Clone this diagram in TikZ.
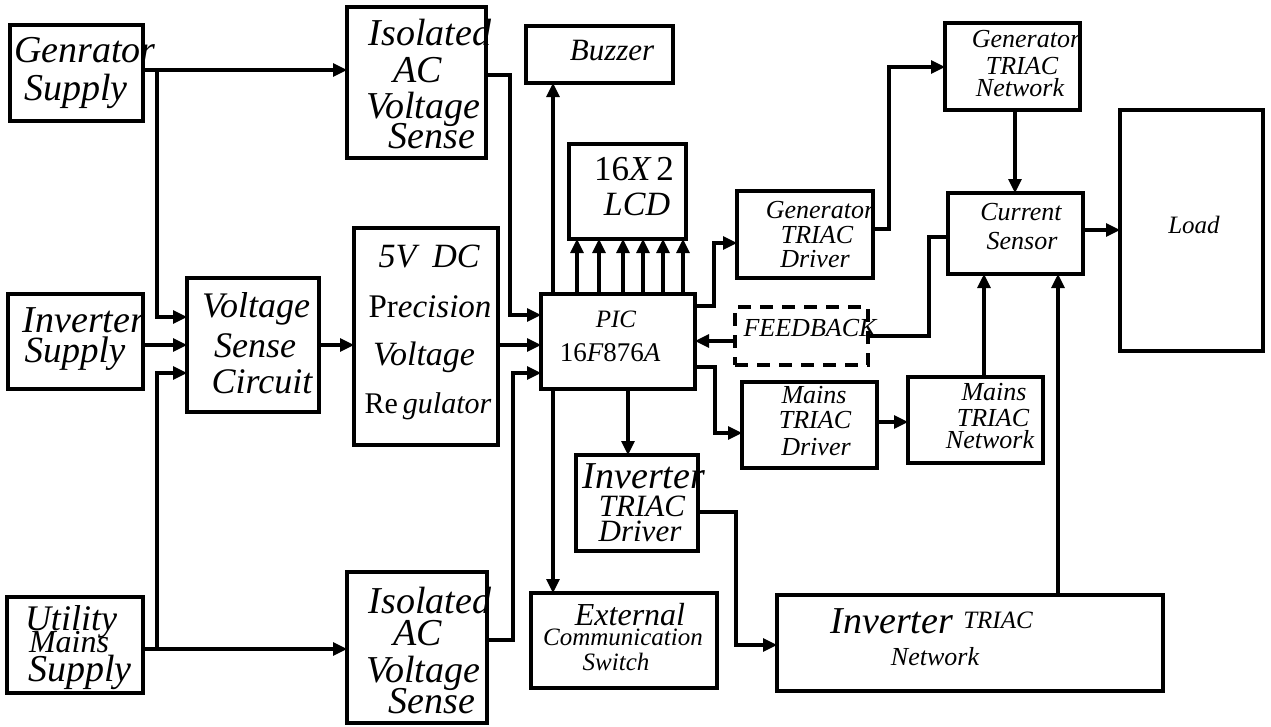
\documentclass[tikz,border=0pt]{standalone}
\usepackage{fontspec}
\setmainfont{Liberation Serif}
\usetikzlibrary{arrows.meta}
\tikzset{
  box/.style={draw, line width=3.8pt, inner sep=0pt, outer sep=0pt},
  fbbox/.style={draw, line width=4.2pt, dash pattern=on 13pt off 9pt, inner sep=0pt, outer sep=0pt},
  conn/.style={line width=3.1pt},
  arr/.style={conn, -{Triangle[length=14pt,width=13pt]}},
  lbl/.style={anchor=base, inner sep=0pt, font=\itshape},
}
\newcommand\mybox[6][box]{\node[#1, minimum width={(#5-#3)*1pt}, minimum height={(#6-#4)*1pt}] (#2) at ({(#3+#5)/2},{(#4+#6)/2}) {};}
\newcommand\mytext[5]{\node[lbl] (#1) at (#2,#3) {\fontsize{#4}{#4}\selectfont #5};}
\begin{document}
\begin{tikzpicture}[x=1pt,y=-1pt]
\useasboundingbox (0,0) rectangle (1271,726);
% boxes
\mybox{gen}{10}{25}{143}{121}
\mybox{iso1}{347}{7}{486}{158}
\mybox{inv}{8}{294}{143}{389}
\mybox{vsc}{187}{278}{319}{412}
\mybox{dc}{354}{228}{498}{445}
\mybox{util}{7}{597}{143}{693}
\mybox{iso2}{347}{572}{487}{723}
\mybox{pic}{541}{294}{695}{389}
\mybox{buz}{526}{26}{673}{83}
\mybox{lcd}{569}{144}{686}{239}
\mybox{gtd}{737}{191}{873}{278}
\mybox[fbbox]{fb}{735}{307}{868}{365}
\mybox{mtd}{742}{382}{877}{468}
\mybox{itd}{576}{455}{698}{551}
\mybox{ecs}{531}{593}{717}{688}
\mybox{itn}{777}{595}{1163}{691}
\mybox{gtn}{945}{23}{1080}{110}
\mybox{cs}{948}{193}{1083}{274}
\mybox{load}{1120}{110}{1263}{351}
\mybox{mtn}{908}{377}{1043}{463}
% texts
\mytext{t1}{85}{62}{38}{Genrator}
\mytext{t2}{76}{100}{38}{Supply}
\mytext{t3}{430}{45}{38}{Isolated}
\mytext{t4}{418}{82}{38}{AC}
\mytext{t5}{423}{118}{38}{Voltage}
\mytext{t6}{432}{148}{38}{Sense}
\mytext{t7}{84}{332}{38}{Inverter}
\mytext{t8}{75}{362}{37}{Supply}
\mytext{t9}{256}{317}{36}{Voltage}
\mytext{t10}{255}{357}{36}{Sense}
\mytext{t11}{262}{393}{36}{Circuit}
\mytext{t12}{429}{267}{34}{5V\hspace{16pt}DC}
\mytext{t13}{430}{317}{33}{{\upshape Pr}ecision}
\mytext{t14}{424}{365}{34}{Voltage}
\mytext{t15}{428}{413}{30}{{\upshape Re}\,gulator}
\mytext{t16}{71}{630}{36}{Utility}
\mytext{t17}{69}{652}{32}{Mains}
\mytext{t18}{80}{681}{38}{Supply}
\mytext{t19}{430}{613}{38}{Isolated}
\mytext{t20}{418}{645}{38}{AC}
\mytext{t21}{423}{682}{38}{Voltage}
\mytext{t22}{432}{713}{38}{Sense}
\mytext{t23}{612}{60}{31}{Buzzer}
\mytext{t24}{634}{180}{35}{{\upshape 16}X\,{\upshape 2}}
\mytext{t25}{637}{215}{34}{LCD}
\mytext{t26}{616}{327}{25}{PIC}
\mytext{t27}{610}{361}{27}{{\upshape 16}F{\upshape 876}A}
\mytext{t28}{820}{218}{26}{Generator}
\mytext{t29}{817}{243}{26}{TRIAC}
\mytext{t30}{815}{267}{26}{Driver}
\mytext{t31}{810}{336}{26}{FEEDBACK}
\mytext{t32}{814}{403}{26}{Mains}
\mytext{t33}{815}{428}{26}{TRIAC}
\mytext{t34}{816}{455}{26}{Driver}
\mytext{t35}{994}{400}{26}{Mains}
\mytext{t36}{993}{426}{26}{TRIAC}
\mytext{t37}{990}{448}{26}{Network}
\mytext{t38}{1026}{47}{26}{Generator}
\mytext{t39}{1022}{74}{26}{TRIAC}
\mytext{t40}{1020}{96}{26}{Network}
\mytext{t41}{1021}{220}{26}{Current}
\mytext{t42}{1022}{249}{26}{Sensor}
\mytext{t43}{1194}{233}{25}{Load}
\mytext{t44}{644}{488}{38}{Inverter}
\mytext{t45}{642}{516}{31}{TRIAC}
\mytext{t46}{640}{541}{31}{Driver}
\mytext{t47}{630}{625}{32}{External}
\mytext{t48}{623}{645}{25}{Communication}
\mytext{t49}{616}{670}{25}{Switch}
\mytext{t50}{892}{633}{38}{Inverter}
\mytext{t51}{998}{628}{25}{TRIAC}
\mytext{t52}{935}{665}{26}{Network}
% connectors
\coordinate (j1) at (157,70);
\coordinate (j2) at (157,649);
\draw[arr] (gen.east |- 0,70) -- (iso1.west |- 0,70);
\draw[arr] (j1) -- (157,317) -- (vsc.west |- 0,317);
\draw[arr] (inv.east |- 0,345) -- (vsc.west |- 0,345);
\draw[arr] (util.east |- 0,649) -- (iso2.west |- 0,649);
\draw[arr] (j2) -- (157,373) -- (vsc.west |- 0,373);
\draw[arr] (vsc.east |- 0,345) -- (dc.west |- 0,345);
\draw[arr] (dc.east |- 0,345) -- (pic.west |- 0,345);
\draw[arr] (iso1.east |- 0,75) -- (510,75) -- (510,315) -- (pic.west |- 0,315);
\draw[arr] (iso2.east |- 0,640) -- (513,640) -- (513,373) -- (pic.west |- 0,373);
\draw[arr] (pic.north -| 553,0) -- (buz.south -| 553,0);
\draw[arr] (pic.south -| 553,0) -- (ecs.north -| 553,0);
\foreach \x in {577,599,623,643,663,683} \draw[arr] (pic.north -| \x,0) -- (lcd.south -| \x,0);
\draw[arr] (pic.east |- 0,306) -- (714,306) -- (714,243) -- (gtd.west |- 0,243);
\draw[arr] (gtd.east |- 0,229) -- (889,229) -- (889,67) -- (gtn.west |- 0,67);
\draw[arr] (gtn.south -| 1015,0) -- (cs.north -| 1015,0);
\draw[arr] (cs.east |- 0,230) -- (load.west |- 0,230);
\draw[conn] (cs.west |- 0,237) -- (929,237) -- (929,336) -- (fb.east |- 0,336);
\draw[arr] (fb.west |- 0,341) -- (pic.east |- 0,341);
\draw[arr] (pic.east |- 0,367) -- (715,367) -- (715,433) -- (mtd.west |- 0,433);
\draw[arr] (mtd.east |- 0,422) -- (mtn.west |- 0,422);
\draw[arr] (mtn.north -| 984,0) -- (cs.south -| 984,0);
\draw[arr] (itn.north -| 1058,0) -- (cs.south -| 1058,0);
\draw[arr] (itd.east |- 0,512) -- (736,512) -- (736,645) -- (itn.west |- 0,645);
\draw[arr] (pic.south -| 628,0) -- (itd.north -| 628,0);
\end{tikzpicture}
\end{document}
